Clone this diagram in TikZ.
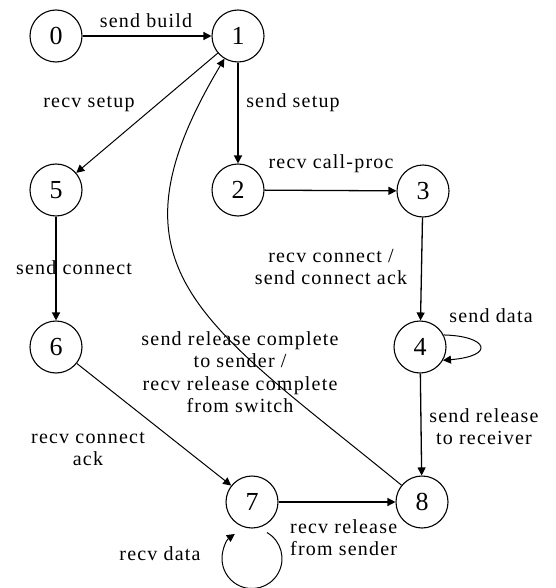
\documentclass[tikz,border=0pt]{standalone}
\usepackage{fontspec}
\setmainfont{Liberation Serif}[LetterSpace=6]
\usetikzlibrary{arrows.meta}

\begin{document}
\begin{tikzpicture}[x=1pt,y=1pt,
  state/.style={circle,draw,line width=1.1pt,minimum size=52pt,inner sep=0pt,
    font=\fontsize{26}{26}\selectfont},
  lbl/.style={inner sep=0pt,align=center,font=\fontsize{20}{22.5}\selectfont},
  edge/.style={line width=1.3pt,-{Triangle[length=8pt,width=8pt]}},
  curved/.style={edge,line width=1pt}]
\useasboundingbox (0,0) rectangle (555,-588);

% states
\node[state] (n0) at (56,-36)  {0};
\node[state] (n1) at (238,-36) {1};
\node[state] (n5) at (56,-190) {5};
\node[state] (n2) at (238,-190) {2};
\node[state] (n3) at (423,-191) {3};
\node[state] (n6) at (56,-347) {6};
\node[state] (n4) at (420,-347) {4};
\node[state] (n7) at (252,-502) {7};
\node[state] (n8) at (422,-502) {8};

% transitions
\draw[edge] (n0) -- (n1);
\draw[curved] (n1) -- (n5);
\draw[edge] (n1) -- (n2);
\draw[edge] (n2) -- (n3);
\draw[edge] (n3) -- (n4);
\draw[edge] (n5) -- (n6);
\draw[edge] (n4) -- (n8);
\draw[curved] (n6) -- (n7);
\draw[edge] (n7) -- (n8);
\draw[curved] (n8) .. controls (201,-321) and (98,-270) .. (n1);

% self loops
\draw[curved] (n4.27) .. controls (488,-336) and (496,-356) .. (n4.-30);
\coordinate (c7) at ([yshift=-30pt]n7.south);
\draw[curved] ([shift={(60:30)}]c7) arc[start angle=60, end angle=-235, radius=30];

% labels
\node[lbl,anchor=base] (t01) at (146,-28) {send build};
\node[lbl,anchor=base] (t15) at (89,-108) {recv setup};
\node[lbl,anchor=base] (t12) at (293,-108) {send setup};
\node[lbl,anchor=base] (t23) at (331,-168) {recv call-proc};
\node[lbl,anchor=north] (t34) at (331,-249) {recv connect /\\send connect ack};
\node[lbl,anchor=base] (t56) at (74,-274) {send connect};
\node[lbl,anchor=base] (t44) at (491,-322) {send data};
\node[lbl,anchor=north] (t81) at (240,-331)
  {send release complete\\to sender /\\recv release complete\\from switch};
\node[lbl,anchor=north] (t48) at (484,-408) {send release\\to receiver};
\node[lbl,anchor=north] (t67) at (88,-432) {recv connect\\ack};
\node[lbl,anchor=north west,align=left] (t78) at (290,-519) {recv release\\from sender};
\node[lbl,anchor=base] (t77) at (160,-560) {recv data};
\end{tikzpicture}
\end{document}
